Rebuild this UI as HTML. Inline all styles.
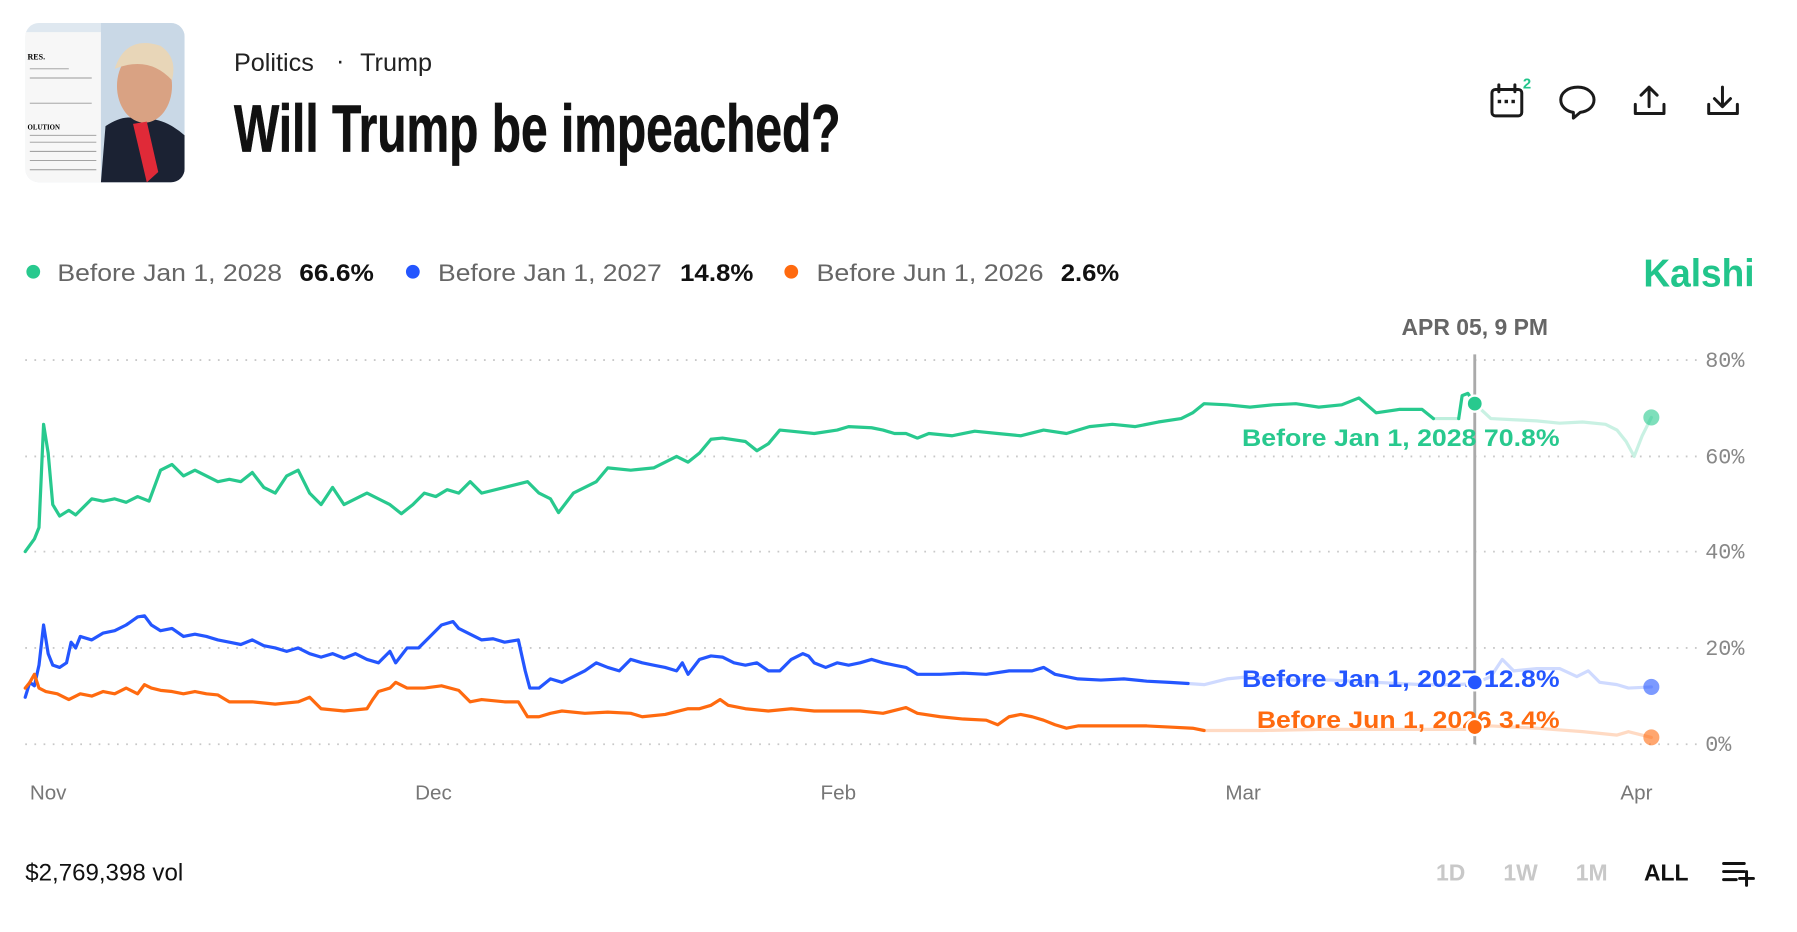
<!DOCTYPE html>
<html><head><meta charset="utf-8"><style>
html,body{margin:0;padding:0;background:#fff;overflow:hidden}
svg{display:block}
</style></head><body>
<svg width="1797" height="932" viewBox="0 0 1567 812.7" xmlns="http://www.w3.org/2000/svg" font-family="Liberation Sans, sans-serif">
<defs>
<clipPath id="ph"><rect x="22" y="20" width="139" height="139" rx="12"/></clipPath>
</defs>
<g clip-path="url(#ph)">
<rect x="22" y="20" width="139" height="139" fill="#dfe8f0"/>
<rect x="22" y="28" width="80" height="131" fill="#f7f7f7"/>
<g stroke="#999" stroke-width="0.8">
<line x1="26" y1="60" x2="60" y2="60"/><line x1="26" y1="68" x2="80" y2="68"/><line x1="26" y1="90" x2="80" y2="90"/><line x1="26" y1="118" x2="84" y2="118"/><line x1="26" y1="124" x2="84" y2="124"/><line x1="26" y1="132" x2="84" y2="132"/><line x1="26" y1="140" x2="84" y2="140"/><line x1="26" y1="148" x2="84" y2="148"/>
</g>
<text x="24" y="52" font-size="7" font-family="Liberation Serif" font-weight="bold">RES.</text>
<text x="24" y="113" font-size="6" font-family="Liberation Serif" font-weight="bold">OLUTION</text>
<rect x="88" y="20" width="73" height="139" fill="#c9d8e6"/>
<path d="M88 159 L92 110 Q110 98 122 105 Q140 100 161 118 L161 159 Z" fill="#1b2233"/>
<ellipse cx="126" cy="75" rx="24" ry="32" fill="#d9a283"/>
<path d="M100 60 Q110 30 140 40 Q155 50 150 70 Q130 48 100 60Z" fill="#e8d6b8"/>
<path d="M116 108 L128 106 L138 150 L128 159 Z" fill="#e02a38"/>
</g>
<text x="204" y="62" font-size="22" fill="#222">Politics</text>
<text x="293" y="60" font-size="22" fill="#222">·</text>
<text x="314" y="62" font-size="22" fill="#222">Trump</text>
<text x="204" y="132" font-size="58" font-weight="bold" fill="#111" stroke="#111" stroke-width="0.6" font-family="Liberation Sans Narrow, Liberation Sans, sans-serif" textLength="529" lengthAdjust="spacingAndGlyphs">Will Trump be impeached?</text>
<g fill="none" stroke="#1a1a1a" stroke-width="2.6" stroke-linecap="round" stroke-linejoin="round">
<rect x="1301" y="78" width="26" height="23" rx="3"/>
<line x1="1307" y1="74" x2="1307" y2="80"/><line x1="1321" y1="74" x2="1321" y2="80"/>
<path d="M1376 76 c-9 0 -15 5 -15 11 c0 6 5 10 11 11 l0 5 l6 -5 c7 -1 12 -5 12 -11 c0 -6 -6 -11 -14 -11z"/>
<path d="M1426 91 v8 h25 v-8 M1438 93 v-17 M1431 83 l7 -7 l7 7"/>
<path d="M1490 91 v8 h25 v-8 M1502 76 v17 M1495 86 l7 7 l7 -7"/>
</g>
<g fill="#1a1a1a"><rect x="1306" y="87" width="3" height="3"/><rect x="1312" y="87" width="3" height="3"/><rect x="1318" y="87" width="3" height="3"/></g>
<text x="1328" y="77" font-size="13" font-weight="bold" fill="#22c58b">2</text>
<circle cx="29" cy="237" r="6" fill="#28c98e"/>
<text x="50" y="245" font-size="21" fill="#666" textLength="196" lengthAdjust="spacingAndGlyphs">Before Jan 1, 2028</text>
<text x="261" y="245" font-size="21" font-weight="bold" fill="#111" textLength="65" lengthAdjust="spacingAndGlyphs">66.6%</text>
<circle cx="360" cy="237" r="6" fill="#2456ff"/>
<text x="382" y="245" font-size="21" fill="#666" textLength="195" lengthAdjust="spacingAndGlyphs">Before Jan 1, 2027</text>
<text x="593" y="245" font-size="21" font-weight="bold" fill="#111" textLength="64" lengthAdjust="spacingAndGlyphs">14.8%</text>
<circle cx="690" cy="237" r="6" fill="#ff6a0f"/>
<text x="712" y="245" font-size="21" fill="#666" textLength="198" lengthAdjust="spacingAndGlyphs">Before Jun 1, 2026</text>
<text x="925" y="245" font-size="21" font-weight="bold" fill="#111" textLength="51" lengthAdjust="spacingAndGlyphs">2.6%</text>
<text x="1433" y="250" font-size="34" font-weight="bold" fill="#22c58b" textLength="97" lengthAdjust="spacingAndGlyphs">Kalshi</text>
<g stroke="#c8c8c8" stroke-width="1.6" stroke-dasharray="1.5 6.5">
<line x1="22" y1="314" x2="1480" y2="314"/><line x1="22" y1="398" x2="1480" y2="398"/><line x1="22" y1="481" x2="1480" y2="481"/><line x1="22" y1="565" x2="1480" y2="565"/><line x1="22" y1="649" x2="1480" y2="649"/>
</g>
<g font-family="Liberation Mono, monospace" font-size="19" fill="#888">
<text x="1487" y="320">80%</text><text x="1487" y="404">60%</text><text x="1487" y="487">40%</text><text x="1487" y="571">20%</text><text x="1487" y="655">0%</text>
</g>
<g font-size="18" fill="#777" text-anchor="middle">
<text x="42" y="697">Nov</text><text x="378" y="697">Dec</text><text x="731" y="697">Feb</text><text x="1084" y="697">Mar</text><text x="1427" y="697">Apr</text>
</g>
<line x1="1286" y1="309" x2="1286" y2="649" stroke="#aaa" stroke-width="2.5"/>
<text x="1286" y="292" font-size="20" font-weight="bold" fill="#666" text-anchor="middle">APR 05, 9 PM</text>
<g fill="none" stroke-width="2.8" stroke-linejoin="round" stroke-linecap="round">
<polyline stroke="#28c98e" points="22,481 30,470 34,460 38,370 42,395 46,440 52,450 60,445 66,449 80,435 90,437 100,435 110,438 120,433 130,437 140,410 150,405 160,415 170,410 180,415 190,420 200,418 210,420 220,412 230,425 240,430 250,415 260,410 270,430 280,440 290,425 300,440 320,430 340,440 350,448 360,440 370,430 380,433 390,427 400,430 410,420 420,430 440,425 460,420 470,430 480,435 487,447 500,430 520,420 530,408 550,410 570,408 580,403 590,398 600,403 610,395 620,383 630,382 650,385 660,393 670,387 680,375 690,376 710,378 730,375 740,372 760,373 770,375 780,378 790,378 800,382 810,378 830,380 850,376 870,378 890,380 910,375 930,378 950,372 970,370 990,372 1010,368 1030,365 1040,360 1050,352 1070,353 1090,355 1110,353 1130,352 1150,355 1170,353 1185,347 1200,360 1220,357 1240,357 1250,365"/>
<polyline stroke="#28c98e" opacity="0.3" points="1250,365 1272,365"/>
<polyline stroke="#28c98e" points="1272,365 1275,345 1280,343 1286,352"/>
<polyline stroke="#28c98e" opacity="0.25" points="1286,352 1300,365 1320,366 1340,367 1360,369 1380,368 1400,370 1410,375 1418,385 1425,398 1432,380 1440,364"/>
<polyline stroke="#2456ff" points="22,608 26,595 30,598 34,580 38,545 42,570 46,580 52,582 58,578 62,560 66,565 70,555 80,558 90,552 100,550 110,545 120,538 126,537 132,545 140,550 150,548 160,555 170,553 180,555 190,558 200,560 210,562 220,558 230,563 240,565 250,568 260,565 270,570 280,573 290,570 300,574 310,570 320,575 330,578 340,568 345,578 355,565 365,565 375,555 385,545 395,542 400,548 410,553 420,558 430,557 440,560 452,558 458,585 462,600 470,600 480,592 490,595 500,590 510,585 520,578 530,582 540,585 550,575 560,578 570,580 580,582 590,585 595,578 600,588 610,575 620,572 630,573 640,578 650,580 660,578 670,585 680,585 690,575 700,570 705,572 710,578 720,582 730,578 740,580 750,578 760,575 770,578 780,580 790,582 800,588 820,588 840,587 860,588 880,585 900,585 910,582 920,588 940,592 960,593 980,592 1000,594 1020,595 1036,596"/>
<polyline stroke="#2456ff" opacity="0.22" points="1036,596 1050,597 1070,592 1090,590 1110,592 1130,593 1160,593 1200,595 1240,597 1270,597 1286,596 1300,590 1310,575 1320,585 1340,583 1360,583 1375,590 1385,585 1395,595 1410,597 1420,600 1440,599"/>
<polyline stroke="#ff6a0f" points="22,600 26,595 30,588 34,600 40,603 50,605 60,610 70,605 80,607 90,603 100,605 110,600 120,605 126,597 132,600 140,602 150,603 160,605 170,603 180,605 190,606 200,612 220,612 240,614 260,612 270,608 280,618 300,620 320,618 325,610 330,603 340,600 345,595 355,600 370,600 385,598 400,602 410,612 420,610 440,612 452,612 460,625 470,625 480,622 490,620 510,622 530,621 550,622 560,625 580,623 600,618 610,618 620,615 628,610 635,615 650,618 670,620 690,618 710,620 730,620 750,620 770,622 790,617 800,622 820,625 840,627 860,628 870,632 880,625 890,623 900,625 910,628 920,632 930,635 940,633 960,633 980,633 1000,633 1020,634 1040,635 1050,637"/>
<polyline stroke="#ff6a0f" opacity="0.25" points="1050,637 1070,637 1100,637 1150,636 1200,636 1250,636 1280,636 1286,635 1300,633 1340,635 1380,638 1410,641 1420,638 1440,643"/>
</g>
<g font-size="21" font-weight="bold">
<text x="1083" y="389" fill="#28c98e" textLength="277" lengthAdjust="spacingAndGlyphs">Before Jan 1, 2028 70.8%</text>
<text x="1083" y="599" fill="#2456ff" textLength="277" lengthAdjust="spacingAndGlyphs">Before Jan 1, 2027 12.8%</text>
<text x="1096" y="635" fill="#ff6a0f" textLength="264" lengthAdjust="spacingAndGlyphs">Before Jun 1, 2026 3.4%</text>
</g>
<circle cx="1286" cy="352" r="7" fill="#28c98e" stroke="#fff" stroke-width="2"/>
<circle cx="1286" cy="595" r="7" fill="#2456ff" stroke="#fff" stroke-width="2"/>
<circle cx="1286" cy="634" r="7" fill="#ff6a0f" stroke="#fff" stroke-width="2"/>
<circle cx="1440" cy="364" r="7" fill="#28c98e" opacity="0.6"/>
<circle cx="1440" cy="599" r="7" fill="#2456ff" opacity="0.6"/>
<circle cx="1440" cy="643" r="7" fill="#ff6a0f" opacity="0.6"/>
<text x="22" y="768" font-size="21" fill="#111">$2,769,398 vol</text>
<g font-size="20" font-weight="bold" text-anchor="middle">
<text x="1265" y="768" fill="#c8c8c8">1D</text><text x="1326" y="768" fill="#c8c8c8">1W</text><text x="1388" y="768" fill="#c8c8c8">1M</text><text x="1453" y="768" fill="#111">ALL</text>
</g>
<g stroke="#111" stroke-width="2.6" stroke-linecap="round">
<line x1="1503" y1="753" x2="1521" y2="753"/><line x1="1503" y1="760" x2="1521" y2="760"/><line x1="1503" y1="767" x2="1514" y2="767"/><line x1="1517" y1="766" x2="1529" y2="766"/><line x1="1523" y1="760" x2="1523" y2="772"/>
</g>
</svg>
</body></html>
